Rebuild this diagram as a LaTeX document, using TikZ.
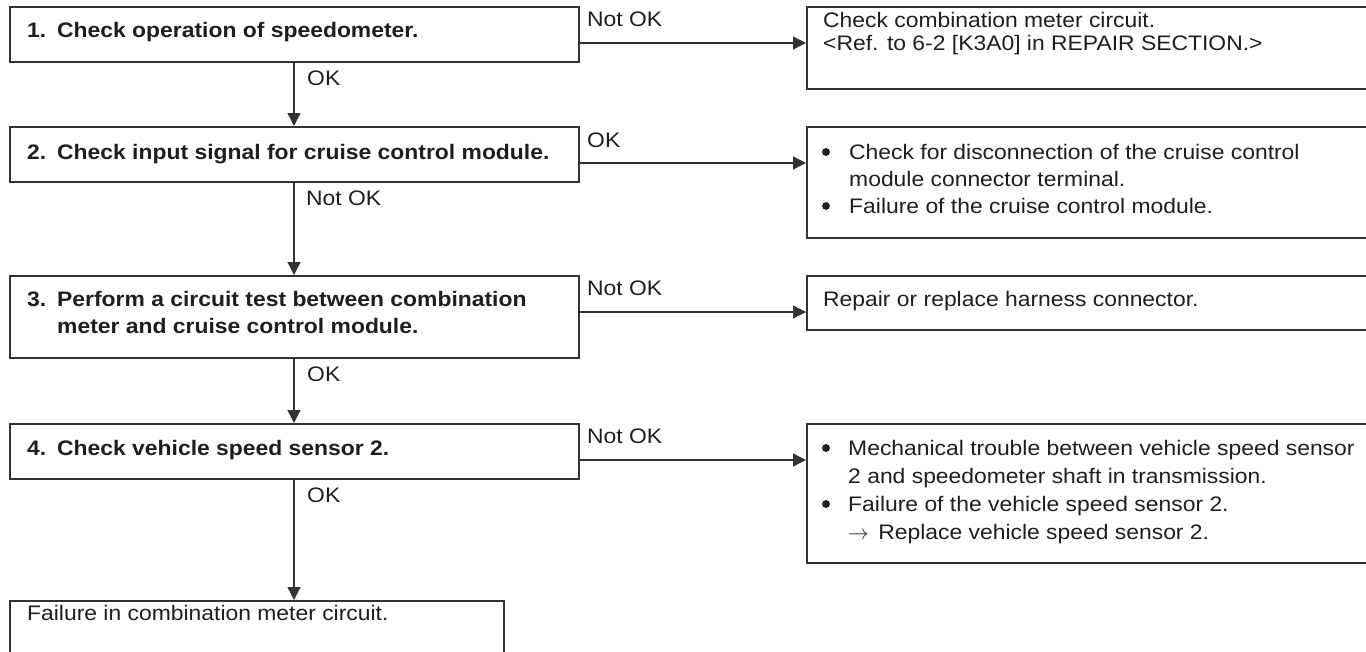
\documentclass[tikz,border=0pt]{standalone}
\usepackage{fontspec}
\setmainfont{Liberation Sans}[FakeStretch=1.09]
\usetikzlibrary{arrows.meta}
\definecolor{ln}{HTML}{333333}
\definecolor{tx}{HTML}{1E1E1E}
\tikzset{
  box/.style={draw=ln, line width=1.8pt, rectangle, inner sep=0pt, anchor=north west},
  lbl/.style={anchor=base west, inner sep=0pt, text=tx, font=\fontsize{21}{25}\selectfont},
  blbl/.style={anchor=base west, inner sep=0pt, text=tx, font=\bfseries\fontsize{21}{25}\selectfont},
  dot/.style={circle, fill=tx, inner sep=0pt, minimum size=7.8pt},
  arr/.style={draw=ln, line width=1.3pt, -{Triangle[length=13pt,width=13pt]}},
}
\begin{document}
\begin{tikzpicture}[x=1pt,y=-1pt]
\useasboundingbox (0,0) rectangle (1366,651);
% left boxes
\node[box, minimum width=569pt, minimum height=55pt] (b1) at (9,6) {};
\node[box, minimum width=569pt, minimum height=55pt] (b2) at (9,126) {};
\node[box, minimum width=569pt, minimum height=82pt] (b3) at (9,275) {};
\node[box, minimum width=569pt, minimum height=55pt] (b4) at (9,423) {};
\node[box, minimum width=494pt, minimum height=60pt] (b5) at (9,600) {};
% right boxes
\node[box, minimum width=570pt, minimum height=82pt] (r1) at (806,6) {};
\node[box, minimum width=570pt, minimum height=111pt] (r2) at (806,126) {};
\node[box, minimum width=570pt, minimum height=54pt] (r3) at (806,275) {};
\node[box, minimum width=570pt, minimum height=139pt] (r4) at (806,423) {};
% helper coordinates
\coordinate (vx) at (294,0);
\coordinate (h1) at (0,43);
\coordinate (h2) at (0,163);
\coordinate (h3) at (0,312);
\coordinate (h4) at (0,460);
% vertical connectors
\draw[arr] (b1.south -| vx) -- (b2.north -| vx);
\draw[arr] (b2.south -| vx) -- (b3.north -| vx);
\draw[arr] (b3.south -| vx) -- (b4.north -| vx);
\draw[arr] (b4.south -| vx) -- (b5.north -| vx);
% horizontal connectors
\draw[arr] (b1.east |- h1) -- (r1.west |- h1);
\draw[arr] (b2.east |- h2) -- (r2.west |- h2);
\draw[arr] (b3.east |- h3) -- (r3.west |- h3);
\draw[arr] (b4.east |- h4) -- (r4.west |- h4);
% connector labels
\node[lbl] (l1) at (587,26) {Not OK};
\node[lbl] (l2) at (587,147) {OK};
\node[lbl] (l3) at (587,295) {Not OK};
\node[lbl] (l4) at (587,443) {Not OK};
\node[lbl] (v1) at (307,85) {OK};
\node[lbl] (v2) at (306,205) {Not OK};
\node[lbl] (v3) at (307,381) {OK};
\node[lbl] (v4) at (307,502) {OK};
% left box texts
\node[blbl] (n1) at (27,37) {1.};
\node[blbl] (t1) at (57,37) {Check operation of speedometer.};
\node[blbl] (n2) at (27,159) {2.};
\node[blbl] (t2) at (57,159) {Check input signal for cruise control module.};
\node[blbl] (n3) at (27,306) {3.};
\node[blbl] (t3a) at (57,306) {Perform a circuit test between combination};
\node[blbl] (t3b) at (57,333) {meter and cruise control module.};
\node[blbl] (n4) at (27,455) {4.};
\node[blbl] (t4) at (57,455) {Check vehicle speed sensor 2.};
\node[lbl] (t5) at (27,620) {Failure in combination meter circuit.};
% right box texts
\node[lbl] (s1a) at (823,27) {Check combination meter circuit.};
\node[lbl] (s1b) at (823,50) {<Ref. to 6-2 [K3A0] in REPAIR SECTION.>};
\node[dot] (p2a) at (826,152) {};
\node[lbl] (s2a) at (849,159) {Check for disconnection of the cruise control};
\node[lbl] (s2b) at (849,186) {module connector terminal.};
\node[dot] (p2b) at (826,206) {};
\node[lbl] (s2c) at (849,213) {Failure of the cruise control module.};
\node[lbl] (s3) at (823,306) {Repair or replace harness connector.};
\node[dot] (p4a) at (826,448) {};
\node[lbl] (s4a) at (848,455) {Mechanical trouble between vehicle speed sensor};
\node[lbl] (s4b) at (848,483) {2 and speedometer shaft in transmission.};
\node[dot] (p4b) at (826,504) {};
\node[lbl] (s4c) at (848,511) {Failure of the vehicle speed sensor 2.};
\node[lbl] (s4d) at (848,539) {$\rightarrow$\hspace{3pt} Replace vehicle speed sensor 2.};
\end{tikzpicture}
\end{document}
